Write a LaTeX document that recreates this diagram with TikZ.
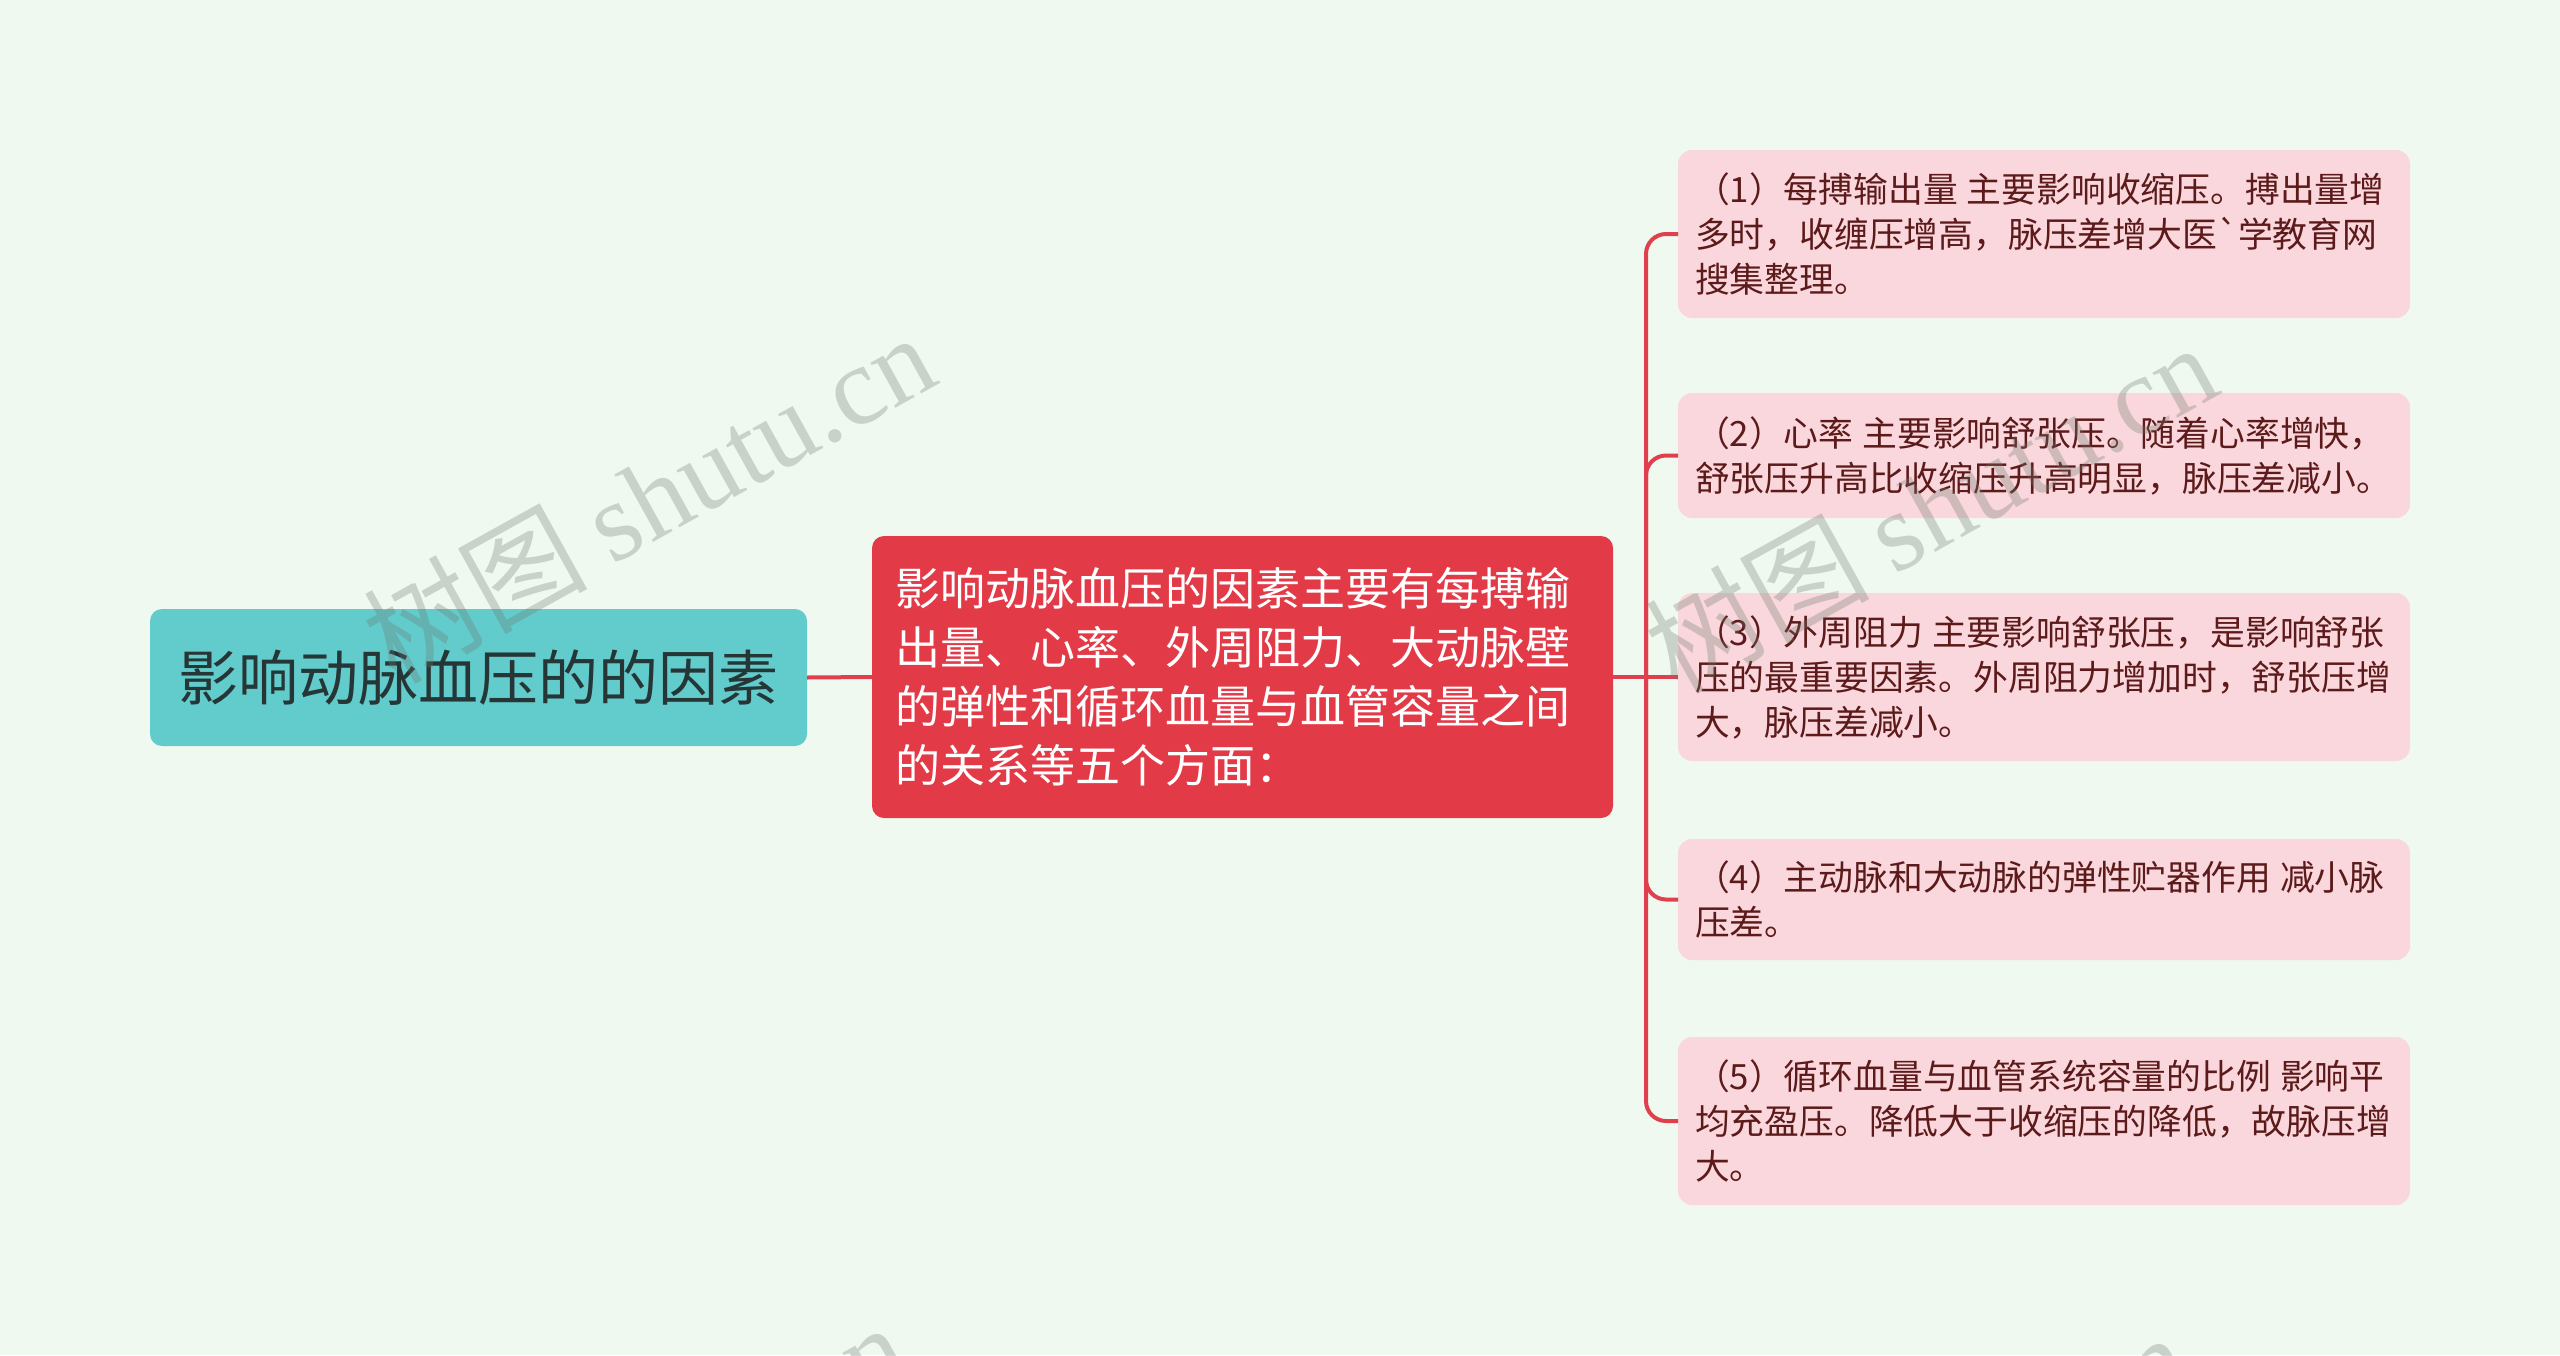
\documentclass[tikz,border=0pt]{standalone}
\usepackage{fontspec}
\setmainfont{Noto Sans CJK SC}[Ligatures=TeXOff]
\newfontfamily\wmlatin{Liberation Serif}
\definecolor{bgc}{HTML}{F0F9EF}
\definecolor{rootfill}{HTML}{62CBCC}
\definecolor{roottext}{HTML}{263636}
\definecolor{midfill}{HTML}{E33A47}
\definecolor{leaffill}{HTML}{FAD7DC}
\definecolor{leaftext}{HTML}{5C1A1A}
\definecolor{connc}{HTML}{E0404D}
\definecolor{wmc}{HTML}{6E786E}
\tikzset{
  rootbox/.style={fill=rootfill, rounded corners=12, inner sep=0, outer sep=0, text=roottext,
    font=\fontsize{60}{70}\selectfont},
  midbox/.style={fill=midfill, rounded corners=12, inner sep=0, outer sep=0, text=white,
    align=left, font=\fontsize{45}{59}\selectfont},
  leafbox/.style={fill=leaffill, rounded corners=14, inner sep=0, outer sep=0, text=leaftext,
    minimum width=732, text width=698, align=left, font=\fontsize{34.8}{45}\selectfont},
  conn/.style={draw=connc, line width=4},
  wm/.style={text=wmc, opacity=0.3, font=\fontsize{112}{120}\selectfont, inner sep=0}
}
\newcommand{\gp}{\hspace{0.26em}}
\begin{document}
\begin{tikzpicture}[x=1pt,y=-1pt]
\fill[bgc] (0,0) rectangle (2560,1355);
\useasboundingbox (0,0) rectangle (2560,1355);
\clip (0,0) rectangle (2560,1355);

\node[rootbox, minimum width=657, minimum height=137] (root) at (478.5,677.5) {影响动脉血压的的因素};
\node[midbox, minimum width=741, minimum height=282, text width=694] (mid) at (1242.5,677)
  {影响动脉血压的因素主要有每搏输\\出量、心率、外周阻力、大动脉壁\\的弹性和循环血量与血管容量之间\\的关系等五个方面：};

\node[leafbox, minimum height=168] (leaf1) at (2044,234)
  {（1）每搏输出量\gp 主要影响收缩压。搏出量增\\多时，收缠压增高，脉压差增大医`学教育网\\搜集整理。};
\node[leafbox, minimum height=125] (leaf2) at (2044,455.5)
  {（2）心率\gp 主要影响舒张压。随着心率增快，\\舒张压升高比收缩压升高明显，脉压差减小。};
\node[leafbox, minimum height=168] (leaf3) at (2044,677)
  {（3）外周阻力\gp 主要影响舒张压，是影响舒张\\压的最重要因素。外周阻力增加时，舒张压增\\大，脉压差减小。};
\node[leafbox, minimum height=121] (leaf4) at (2044,899.5)
  {（4）主动脉和大动脉的弹性贮器作用\gp 减小脉\\压差。};
\node[leafbox, minimum height=168] (leaf5) at (2044,1121)
  {（5）循环血量与血管系统容量的比例\gp 影响平\\均充盈压。降低大于收缩压的降低，故脉压增\\大。};

\coordinate (tr) at (1646,677);
\draw[conn] (root.east) -- (mid.west);
\draw[conn] (mid.east) -- (leaf3.west);
\foreach \l in {leaf1,leaf2,leaf4,leaf5}
  \draw[conn, rounded corners=20] (tr) |- (\l.west);

\node[wm, rotate=29] (wm1) at (648,497) {树图 {\wmlatin shutu.cn}};
\node[wm, rotate=29] (wm2) at (1930,507) {树图 {\wmlatin shutu.cn}};
\node[wm, rotate=29] (wm3) at (620,1487) {树图 {\wmlatin shutu.cn}};
\node[wm, rotate=29] (wm4) at (1902,1497) {树图 {\wmlatin shutu.cn}};
\end{tikzpicture}
\end{document}
